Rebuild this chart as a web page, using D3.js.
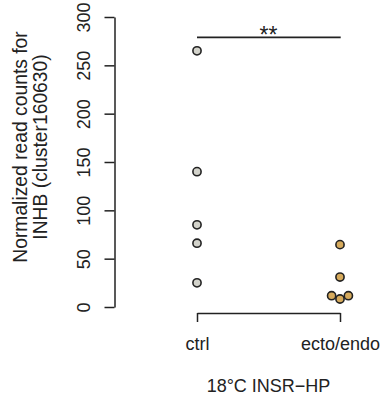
<!DOCTYPE html>
<html><head><meta charset="utf-8">
<script src="https://cdn.jsdelivr.net/npm/d3@7"></script>
<style>body{margin:0;background:#fff}svg{display:block}text{font-family:"Liberation Sans",Arial,sans-serif;fill:#222}</style>
</head><body><div id="c"></div>
<script>
const categories = ["ctrl", "ecto/endo"];
const ctrlValues = [265, 140, 85, 66, 25];
const ectoValues = [64.5, 31, 11.7, 8.3, 11.7];
const yTicks = [0, 50, 100, 150, 200, 250, 300];
const yLabelLines = ["Normalized read counts for", "INHB (cluster160630)"];
const xTitle = "18°C INSR\u2212HP";
const sigLabel = "**";
const fills = ["#d3d3cb", "#d6aa5c"];

const W = 381, H = 403;
const svg = d3.select("#c").append("svg").attr("width", W).attr("height", H);
const y = d3.scaleLinear().domain([0, 300]).range([307, 17]);
const x = d3.scalePoint().domain(categories).range([197, 340]);
const axisX = 114.5;
const fs = 18;

// Y axis
const gy = svg.append("g").attr("transform", `translate(${axisX},0)`)
  .call(d3.axisLeft(y).tickValues(yTicks).tickSize(10).tickSizeOuter(0).tickFormat(d3.format("d")));
gy.select(".domain").attr("stroke", "#222").attr("stroke-width", 1.5);
gy.selectAll(".tick line").attr("stroke", "#222").attr("stroke-width", 1.5);
gy.selectAll(".tick text").attr("x", null).attr("dy", null)
  .attr("transform", "translate(-24.5,0) rotate(-90)")
  .attr("text-anchor", "middle").attr("font-size", fs).style("font-family", '"Liberation Sans",Arial,sans-serif').attr("fill", "#222");

// Y label
yLabelLines.forEach((t, i) => {
  svg.append("text").attr("transform", `translate(${26.5 + i * 20.5},147) rotate(-90)`)
    .attr("text-anchor", "middle").attr("font-size", 19.3).text(t);
});

// bottom axis (bracket)
const gx = svg.append("g").attr("transform", "translate(0,313)")
  .call(d3.axisBottom(x).tickSize(9).tickSizeOuter(0));
gx.select(".domain").attr("stroke", "#222").attr("stroke-width", 1.5);
gx.selectAll(".tick line").attr("stroke", "#222").attr("stroke-width", 1.5);
gx.selectAll(".tick text").attr("y", 36.5).attr("dy", null).attr("font-size", fs)
  .style("font-family", '"Liberation Sans",Arial,sans-serif').attr("fill", "#222");

svg.append("text").attr("x", (x(categories[0]) + x(categories[1])) / 2).attr("y", 392)
  .attr("text-anchor", "middle").attr("font-size", fs).text(xTitle);

// significance
svg.append("line").attr("x1", x(categories[0])).attr("x2", x(categories[1]) + 0.7)
  .attr("y1", 37.3).attr("y2", 37.3).attr("stroke", "#222").attr("stroke-width", 1.7);
svg.append("text").attr("x", (x(categories[0]) + x(categories[1])) / 2).attr("y", 42.5)
  .attr("text-anchor", "middle").attr("font-size", 23).text(sigLabel);

// beeswarm layout
const r = 4.1, spacing = 9;
function swarm(vals) {
  const pts = vals.map((v, i) => ({ v, i, py: y(v) })).sort((a, b) => b.py - a.py);
  const placed = [];
  pts.forEach(p => {
    let best = 0;
    const cands = [0];
    placed.forEach(q => {
      const dy = Math.abs(q.py - p.py);
      if (dy < spacing) {
        const dx = Math.sqrt(spacing * spacing - dy * dy);
        cands.push(q.dx + dx, q.dx - dx);
      }
    });
    cands.sort((a, b) => Math.abs(a) - Math.abs(b) || a - b);
    for (const c of cands) {
      const ok = placed.every(q => Math.hypot(q.dx - c, q.py - p.py) >= spacing - 1e-6);
      if (ok) { best = c; break; }
    }
    p.dx = best; placed.push(p);
  });
  return placed;
}
[ctrlValues, ectoValues].forEach((vals, k) => {
  const cx = x(categories[k]);
  svg.append("g").selectAll("circle").data(swarm(vals)).join("circle")
    .attr("cx", d => cx + d.dx).attr("cy", d => d.py).attr("r", r)
    .attr("fill", fills[k]).attr("stroke", "#222").attr("stroke-width", 1.6);
});
</script></body></html>
